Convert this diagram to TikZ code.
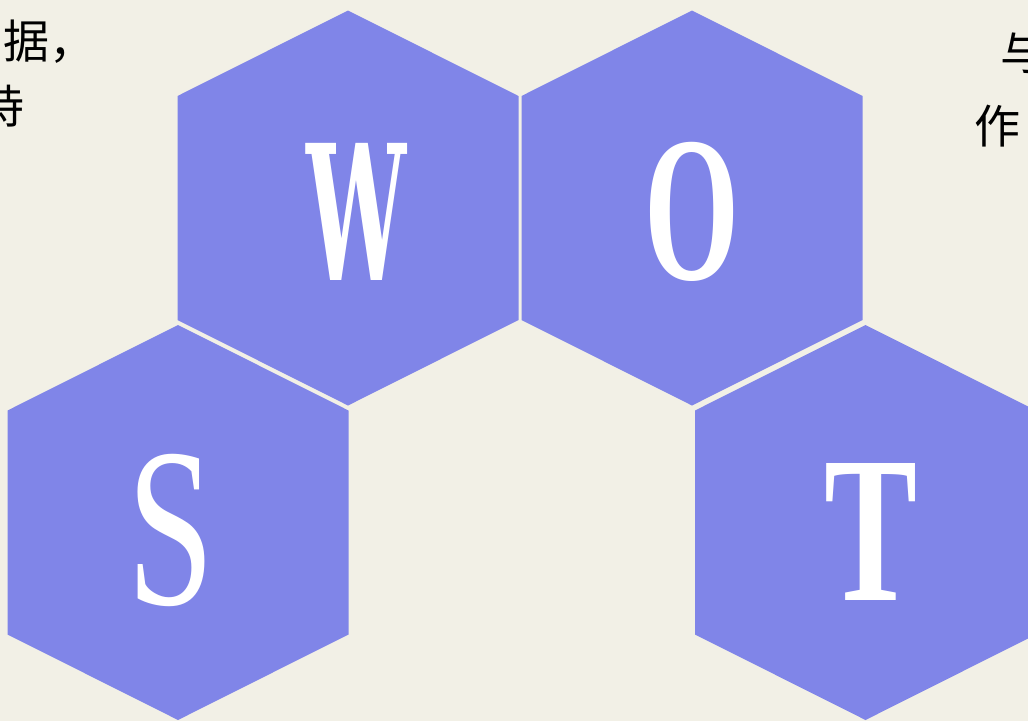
\documentclass[tikz,border=0pt]{standalone}
\usepackage{fontspec}
\setmainfont{Liberation Serif}
\newfontfamily\cjk{Noto Sans CJK SC}
\newfontfamily\heavyserif{DejaVu Serif}
\definecolor{bgc}{RGB}{242,240,230}
\definecolor{hexc}{RGB}{128,133,232}
\tikzset{
  hexa/.pic={\fill[hexc] (0,-197.5) -- (170.5,-112) -- (170.5,112) -- (0,197.5) -- (-170.5,112) -- (-170.5,-112) -- cycle;},
  letter/.style={inner sep=0pt, text=white, font=\bfseries},
  cjktext/.style={inner sep=0pt, text=black, font=\cjk\fontsize{46}{46}\selectfont}
}
\begin{document}
\begin{tikzpicture}[x=1pt,y=-1pt]
\useasboundingbox (0,0) rectangle (1028,721);
\clip (0,0) rectangle (1028,721);
\fill[bgc] (0,0) rectangle (1028,721);
\pic (hw) at (348,208) {hexa};
\pic (ho) at (692,208) {hexa};
\pic (hs) at (178,522.5) {hexa};
\pic (ht) at (865.5,522.5) {hexa};
\node[letter, font=\heavyserif\bfseries] (w) at (357,211.5) {\resizebox{100pt}{137pt}{W}};
\node[letter] (o) at (692.5,211.5) {\resizebox{95pt}{137pt}{O}};
\node[letter, font=\mdseries] (s) at (171,530) {\resizebox{87pt}{150pt}{S}};
\node[letter] (t) at (871,531.5) {\resizebox{93pt}{137pt}{T}};
\node[cjktext, anchor=north west] (c1) at (3,20) {据，};
\node[cjktext, anchor=north] (c2) at (2,85) {持};
\node[cjktext, anchor=south west] (c3) at (1000,74) {与};
\node[cjktext, anchor=north] (c4) at (997,105) {作};
\end{tikzpicture}
\end{document}
